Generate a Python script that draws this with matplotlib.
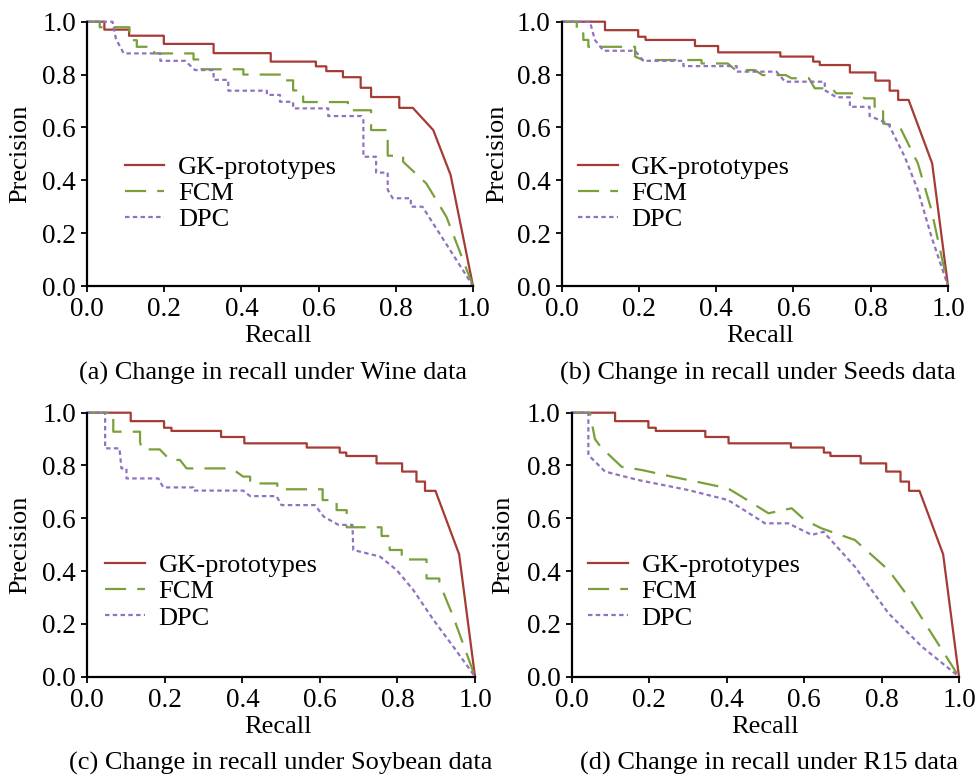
import matplotlib
matplotlib.use("Agg")
import matplotlib.pyplot as plt

plt.rcParams['font.family'] = ['Liberation Serif', 'DejaVu Serif']
plt.rcParams['font.size'] = 19

# ---- data (recall, precision vertices) ----
labels = ['GK-prototypes', 'FCM', 'DPC']
captions = ['(a) Change in recall under Wine data',
            '(b) Change in recall under Seeds data',
            '(c) Change in recall under Soybean data',
            '(d) Change in recall under R15 data']
ticks = [0.0, 0.2, 0.4, 0.6, 0.8, 1.0]

# Wine
wine_gk_r = [0, 0.045, 0.045, 0.109, 0.109, 0.199, 0.199, 0.328, 0.328, 0.476, 0.476, 0.593, 0.593,
             0.620, 0.620, 0.663, 0.663, 0.709, 0.709, 0.736, 0.736, 0.809, 0.809, 0.844, 0.897, 0.942, 1.0]
wine_gk_p = [1.0, 1.0, 0.970, 0.970, 0.947, 0.947, 0.916, 0.916, 0.881, 0.881, 0.849, 0.849, 0.831,
             0.831, 0.813, 0.813, 0.790, 0.790, 0.750, 0.750, 0.715, 0.715, 0.674, 0.674, 0.590, 0.420, 0.0]
wine_fcm_r = [0, 0.033, 0.033, 0.110, 0.110, 0.129, 0.129, 0.174, 0.174, 0.276, 0.276, 0.297, 0.297,
              0.405, 0.405, 0.513, 0.513, 0.534, 0.534, 0.560, 0.560, 0.676, 0.676, 0.736, 0.736, 0.779,
              0.779, 0.819, 0.819, 0.879, 0.931, 1.0]
wine_fcm_p = [1.0, 1.0, 0.979, 0.979, 0.930, 0.930, 0.905, 0.905, 0.880, 0.880, 0.857, 0.857, 0.820,
              0.820, 0.800, 0.800, 0.778, 0.778, 0.740, 0.740, 0.696, 0.696, 0.665, 0.665, 0.590, 0.590,
              0.493, 0.493, 0.470, 0.388, 0.262, 0.0]
wine_dpc_r = [0, 0.066, 0.075, 0.095, 0.19, 0.19, 0.254, 0.28, 0.328, 0.328, 0.366, 0.366, 0.466, 0.466,
              0.50, 0.50, 0.534, 0.534, 0.625, 0.625, 0.711, 0.716, 0.716, 0.749, 0.749, 0.779, 0.779,
              0.792, 0.839, 0.839, 0.869, 1.0]
wine_dpc_p = [1.0, 1.0, 0.935, 0.880, 0.880, 0.852, 0.852, 0.817, 0.817, 0.780, 0.780, 0.739, 0.739, 0.723,
              0.723, 0.697, 0.697, 0.672, 0.672, 0.643, 0.643, 0.627, 0.489, 0.489, 0.429, 0.429, 0.364,
              0.332, 0.332, 0.300, 0.300, 0.0]

# Seeds
seeds_gk_r = [0, 0.112, 0.112, 0.198, 0.198, 0.217, 0.217, 0.345, 0.345, 0.405, 0.405, 0.566, 0.566,
              0.651, 0.651, 0.668, 0.668, 0.746, 0.746, 0.812, 0.812, 0.849, 0.849, 0.871, 0.871, 0.898,
              0.959, 1.0]
seeds_gk_p = [1.0, 1.0, 0.968, 0.968, 0.943, 0.943, 0.931, 0.931, 0.908, 0.908, 0.884, 0.884, 0.868,
              0.868, 0.849, 0.849, 0.836, 0.836, 0.808, 0.808, 0.777, 0.777, 0.739, 0.739, 0.704, 0.704,
              0.464, 0.0]
seeds_fcm_r = [0, 0.039, 0.039, 0.056, 0.056, 0.069, 0.069, 0.19, 0.19, 0.211, 0.362, 0.362, 0.43, 0.45,
               0.50, 0.52, 0.58, 0.595, 0.64, 0.655, 0.70, 0.71, 0.76, 0.785, 0.81, 0.81, 0.832, 0.832,
               0.875, 0.922, 0.957, 1.0]
seeds_fcm_p = [1.0, 1.0, 0.956, 0.956, 0.931, 0.931, 0.905, 0.905, 0.868, 0.855, 0.855, 0.842, 0.842, 0.817,
               0.817, 0.798, 0.798, 0.786, 0.786, 0.748, 0.748, 0.729, 0.729, 0.710, 0.710, 0.678, 0.678,
               0.615, 0.603, 0.464, 0.288, 0.0]
seeds_dpc_r = [0, 0.073, 0.086, 0.108, 0.19, 0.211, 0.315, 0.315, 0.453, 0.453, 0.556, 0.578, 0.681, 0.681,
               0.711, 0.746, 0.746, 0.797, 0.797, 0.845, 0.888, 0.922, 0.957, 1.0]
seeds_dpc_p = [1.0, 1.0, 0.931, 0.890, 0.890, 0.852, 0.852, 0.832, 0.832, 0.811, 0.811, 0.773, 0.773, 0.741,
               0.714, 0.714, 0.678, 0.678, 0.643, 0.615, 0.489, 0.363, 0.187, 0.0]

# Soybean
soy_gk_r = list(seeds_gk_r)
soy_gk_p = list(seeds_gk_p)
soy_fcm_r = [0, 0.067, 0.067, 0.136, 0.136, 0.14, 0.187, 0.213, 0.239, 0.256, 0.372, 0.402, 0.42, 0.42,
             0.49, 0.49, 0.607, 0.607, 0.643, 0.643, 0.669, 0.669, 0.759, 0.759, 0.78, 0.78, 0.811, 0.811,
             0.875, 0.875, 0.908, 0.908, 0.944, 1.0]
soy_fcm_p = [1.0, 1.0, 0.928, 0.928, 0.890, 0.861, 0.861, 0.821, 0.821, 0.789, 0.789, 0.758, 0.758, 0.732,
             0.732, 0.710, 0.710, 0.669, 0.669, 0.631, 0.631, 0.566, 0.566, 0.533, 0.533, 0.480, 0.480, 0.444,
             0.444, 0.372, 0.372, 0.356, 0.227, 0.0]
soy_dpc_r = [0, 0.046, 0.046, 0.083, 0.088, 0.101, 0.101, 0.183, 0.196, 0.273, 0.273, 0.402, 0.42, 0.488,
             0.501, 0.587, 0.61, 0.648, 0.684, 0.686, 0.755, 0.798, 0.841, 0.893, 0.944, 1.0]
soy_dpc_p = [1.0, 1.0, 0.865, 0.865, 0.789, 0.789, 0.751, 0.751, 0.717, 0.717, 0.705, 0.705, 0.684, 0.684,
             0.650, 0.650, 0.606, 0.575, 0.575, 0.480, 0.455, 0.404, 0.328, 0.215, 0.114, 0.0]

# R15
r15_gk_r = list(seeds_gk_r)
r15_gk_p = list(seeds_gk_p)
r15_fcm_r = [0, 0.047, 0.06, 0.075, 0.129, 0.181, 0.258, 0.344, 0.404, 0.439, 0.508, 0.568, 0.602, 0.645,
             0.731, 0.818, 0.869, 0.929, 1.0]
r15_fcm_p = [1.0, 1.0, 0.90, 0.87, 0.795, 0.783, 0.758, 0.732, 0.713, 0.682, 0.619, 0.638, 0.593, 0.562,
             0.518, 0.404, 0.303, 0.164, 0.0]
r15_dpc_r = [0, 0.043, 0.043, 0.086, 0.172, 0.301, 0.404, 0.499, 0.559, 0.620, 0.650, 0.731, 0.818, 0.904, 1.0]
r15_dpc_p = [1.0, 1.0, 0.84, 0.777, 0.745, 0.707, 0.669, 0.581, 0.581, 0.537, 0.549, 0.417, 0.24, 0.114, 0.0]

panels = [
    [(wine_gk_r, wine_gk_p), (wine_fcm_r, wine_fcm_p), (wine_dpc_r, wine_dpc_p)],
    [(seeds_gk_r, seeds_gk_p), (seeds_fcm_r, seeds_fcm_p), (seeds_dpc_r, seeds_dpc_p)],
    [(soy_gk_r, soy_gk_p), (soy_fcm_r, soy_fcm_p), (soy_dpc_r, soy_dpc_p)],
    [(r15_gk_r, r15_gk_p), (r15_fcm_r, r15_fcm_p), (r15_dpc_r, r15_dpc_p)],
]

colors = ['#a63a34', '#79a03a', '#8f72c0']
styles = ['-', (0, (9.5, 5)), (0, (2.0, 1.5))]

W, H = 979, 780
fig = plt.figure(figsize=(W / 100, H / 100), dpi=100)

# pixel boxes: left, top, right, bottom
boxes = [(87, 21.7, 473, 286), (561.7, 21.7, 948, 286),
         (87.3, 412.7, 475, 676.7), (571.7, 412.7, 959, 676.7)]
leg_pos = [(0.098, 0.351), (0.042, 0.351), (0.046, 0.322), (0.043, 0.322)]
prec_x = [20, 497, 20, 503]
recall_xy = [(278, 336), (760, 336), (278, 727), (765, 727)]
cap_xy = [(273, 373), (758, 373), (281, 763), (769, 763)]

for k in range(4):
    l, t, r, b = boxes[k]
    ax = fig.add_axes([l / W, 1 - b / H, (r - l) / W, (b - t) / H])
    for (xs, ys), c, ls, lab in zip(panels[k], colors, styles, labels):
        ax.plot(xs, ys, color=c, linestyle=ls, lw=1.6, label=lab, clip_on=False)
    ax.set_xlim(0, 1)
    ax.set_ylim(0, 1)
    ax.set_xticks(ticks)
    ax.set_yticks(ticks)
    ax.set_xticklabels(['%.1f' % v for v in ticks])
    ax.set_yticklabels(['%.1f' % v for v in ticks])
    for s in ['top', 'right']:
        ax.spines[s].set_visible(False)
    for s in ['left', 'bottom']:
        ax.spines[s].set_linewidth(1.6)
    ax.tick_params(direction='out', length=4, width=1.3, pad=4, labelsize=19.5)
    ax.legend(loc='center left', bbox_to_anchor=leg_pos[k], frameon=False,
              handlelength=1.5, handletextpad=0.52, labelspacing=0.1,
              borderpad=0, borderaxespad=0, fontsize=19)
    fig.text(prec_x[k] / W, 1 - (t + b) / 2 / H, 'Precision', rotation=90,
             ha='center', va='center')
    fig.text(recall_xy[k][0] / W, 1 - recall_xy[k][1] / H, 'Recall', ha='center', va='center')
    fig.text(cap_xy[k][0] / W, 1 - cap_xy[k][1] / H, captions[k], ha='center', va='center')

fig.savefig('out.png', dpi=100)
